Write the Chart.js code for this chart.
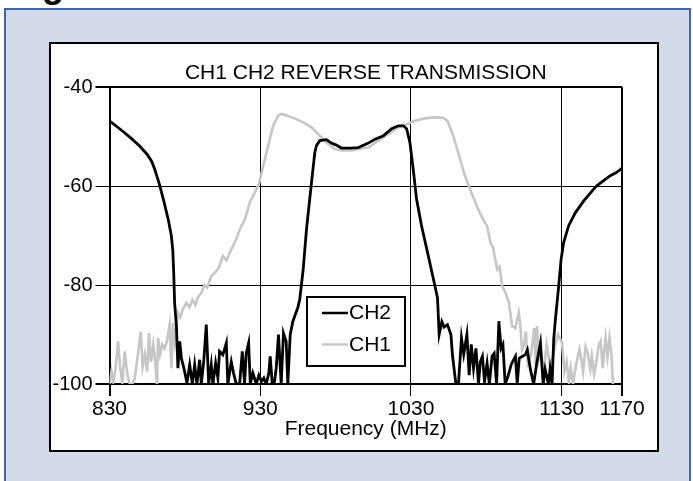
<!DOCTYPE html>
<html>
<head>
<meta charset="utf-8">
<title>CH1 CH2 Reverse Transmission</title>
<script src="https://cdn.jsdelivr.net/npm/chart.js"></script>
<style>
  body { margin: 0; width: 693px; height: 481px; overflow: hidden; position: relative; background: #fff; font-family: "Liberation Sans", Arial, sans-serif; }
  #frame { position: absolute; left: 4px; top: 8px; width: 683px; height: 480px; border: 2px solid #3c66b0; border-bottom: none; background: #d4dbe8; }
  #panel { position: absolute; left: 49px; top: 42px; width: 606px; height: 406px; border: 2px solid #000; background: #fff; }
  #fig { position: absolute; left: 10px; top: -33px; font-size: 36px; line-height: 36px; font-weight: bold; color: #000; }
  #chart { position: absolute; left: 0; top: 0; }
</style>
</head>
<body>
<div id="frame"></div>
<div id="fig">Figure</div>
<div id="panel"></div>
<canvas id="chart" width="693" height="481"></canvas>
<script>
// CH2 trace (black), frequency in MHz and level in dB
const ch2Freq = [
    830, 835, 840, 845, 850, 855, 858, 860, 863, 866,
    869, 871, 872, 872.6, 873.2, 874.4, 875.4, 876.6, 877.7, 879.5,
    881.4, 883.2, 885, 886.5, 888, 889.8, 890.9, 892.5, 894.2, 895.8,
    897.5, 898.6, 900.4, 901.9, 903, 905.2, 907.5, 908.5, 910.8, 912.3,
    914.1, 916.3, 918.1, 919.6, 920.7, 922.3, 923.4, 925.1, 927.4, 929.1,
    930.9, 932.4, 934, 935.7, 936.6, 938, 939.5, 940.6, 942.1, 943.9,
    945.4, 947.2, 948.3, 949.9, 951.6, 953.2, 954.9, 956.2, 958.5, 960.7,
    964, 966.2, 967.3, 969.5, 973.9, 977.2, 980.5, 983.8, 990.5, 995.1,
    1001.7, 1006.2, 1011.7, 1017.2, 1021.6, 1024.9, 1027.1, 1029.3, 1031.5, 1033.7,
    1037, 1041.5, 1045.9, 1047.6, 1048.7, 1050.5, 1052, 1054.2, 1056.5, 1057.6,
    1059.8, 1061.5, 1063.5, 1065, 1067.1, 1068.6, 1070, 1071.5, 1073.1, 1074.8,
    1076, 1077.4, 1078.8, 1080.5, 1082, 1083.8, 1085.2, 1086.8, 1088.3, 1089.8,
    1091, 1092.5, 1094.3, 1096.6, 1099.3, 1100.5, 1101.8, 1104, 1106, 1107.2,
    1109.2, 1111.4, 1113.6, 1115.9, 1117.7, 1119, 1121.2, 1122.3, 1123.6, 1124.7,
    1125.8, 1128, 1129.6, 1131.3, 1134.6, 1139, 1144.6, 1151.2, 1153.4, 1157.8,
    1162.2, 1166, 1170
];
const ch2Level = [
    -46.8, -48, -49.2, -50.5, -51.9, -53.6, -55, -56.6, -59.5, -63,
    -66.8, -70, -73, -77.5, -83.6, -88.3, -96.8, -91.4, -94.8, -97,
    -99.8, -96.1, -100, -96.1, -100, -95.1, -100, -95.5, -88, -100,
    -96.1, -100, -95.8, -98.8, -93.4, -94.1, -91.7, -100, -95.5, -97.8,
    -100, -100, -93.4, -100, -93.8, -91.7, -100, -97.8, -100, -98.2,
    -99.5, -98.8, -100, -97.8, -94.4, -100, -99.5, -96.8, -90, -100,
    -89.7, -91.4, -100, -90, -87.4, -86, -84.6, -82.9, -76.8, -68.7,
    -59.3, -53.2, -51.8, -50.8, -50.6, -51.3, -51.7, -52.3, -52.3, -52.2,
    -51.3, -50.5, -49.8, -48.4, -47.8, -47.8, -48.4, -51.2, -56.6, -62.6,
    -68, -74.1, -80.2, -82.6, -90, -87.4, -88.5, -88, -90, -94.4,
    -100, -100, -90.7, -94, -90, -98.2, -92, -96.8, -92.8, -100,
    -95.5, -94.4, -99.5, -95.8, -100, -94.4, -93.8, -100, -87.3, -92.8,
    -92, -100, -98.5, -96, -94.4, -100, -94.8, -94.4, -94, -93.1,
    -97, -100, -95.5, -91.7, -100, -97, -100, -97, -100, -91,
    -87, -80.2, -74.8, -71.4, -68, -65.4, -63, -60.6, -59.9, -58.9,
    -57.9, -57.3, -56.4
];

// CH1 trace (grey)
const ch1Freq = [
    830, 831.3, 832.5, 834, 835.7, 837, 838.5, 840.1, 841.8, 843.4,
    845, 846.7, 848, 849.6, 850.7, 852, 853.5, 855, 856.2, 857.5,
    859, 860.3, 861.5, 862.2, 863.5, 865, 866.5, 868, 869.9, 871.1,
    872.1, 873.3, 875.4, 877, 878.5, 881, 883, 885, 887, 888.5,
    890.9, 893, 894.8, 897.5, 900, 902.5, 905.2, 907.5, 910.8, 914.1,
    916.5, 919.8, 923.1, 926.4, 929.1, 932, 935.3, 938.6, 941.9, 944.1,
    947.4, 952.9, 958.5, 964, 969.5, 973.9, 979.4, 983.8, 990.5, 997.1,
    1001.7, 1008.3, 1015, 1021.6, 1028.2, 1032.6, 1039.3, 1045.9, 1051.4, 1054.2,
    1058, 1061.3, 1065.8, 1070.1, 1074.6, 1079, 1080.5, 1082.7, 1084.5, 1087.2,
    1088.8, 1090.5, 1092.7, 1095, 1097.1, 1099.3, 1101.5, 1102.6, 1103.7, 1105.2,
    1106.2, 1107.5, 1109.7, 1111.7, 1112.8, 1113.6, 1114.8, 1116, 1118, 1120,
    1122.5, 1125.8, 1127.5, 1129.1, 1130.2, 1131.8, 1133.3, 1134.8, 1136, 1137.5,
    1139.7, 1141.8, 1143, 1144.2, 1145.8, 1147.3, 1149, 1150, 1151.5, 1153,
    1154.5, 1155.8, 1157.2, 1158.3, 1159.1, 1160.4, 1161.7, 1163, 1164
];
const ch1Level = [
    -100, -97.5, -99.5, -97, -91.4, -96.5, -99.7, -93.4, -98, -100,
    -100, -99, -96, -92.1, -89.4, -96.5, -94, -97.5, -89.7, -95.5,
    -92, -95.5, -100, -90.7, -94, -92, -92.8, -91.5, -88, -96.8,
    -87.7, -91.5, -85.6, -86.5, -85, -83.6, -84.5, -83, -84, -82.5,
    -81.6, -80, -80.5, -78.2, -77.5, -76.5, -74.1, -75, -72.8, -70.7,
    -68.7, -66.7, -63.3, -61.3, -59.6, -55.9, -51.8, -47.8, -45.7, -45.4,
    -45.7, -46.3, -47.1, -48.1, -49.8, -51.2, -52.5, -52.8, -52.8, -52.4,
    -52.2, -50.8, -49.5, -48.1, -47.4, -46.8, -46.3, -46.1, -46.2, -46.8,
    -49.8, -53.2, -57.9, -61.3, -64.7, -67.4, -68, -71.4, -72.5, -76.8,
    -76.3, -80.2, -81.5, -83.6, -88.3, -88.7, -85.6, -88.3, -93.1, -91.8,
    -89.4, -95.8, -94.1, -88.7, -96, -88.3, -95, -93.5, -97.5, -92,
    -97, -92, -90, -91, -91.5, -97.5, -95.5, -99.5, -96.8, -100,
    -95.8, -93, -95, -97.5, -92.5, -93.8, -97, -94.4, -98, -95.5,
    -92.3, -91.4, -96.8, -93, -90.7, -94.5, -90.7, -94, -100
];

const freqTicks = [830, 930, 1030, 1130, 1170];
const levelTicks = [-100, -80, -60, -40];
const seriesNames = ['CH2', 'CH1'];
const seriesColors = ['#000000', '#c6c6c6'];

function toPoints(freqs, levels) {
    return freqs.map((f, i) => ({ x: f, y: levels[i] }));
}

// legend drawn as a boxed key inside the plot, like the original figure
const boxLegend = {
    id: 'boxLegend',
    afterDatasetsDraw(chart) {
        const c = chart.ctx;
        c.save();
        c.fillStyle = '#fff';
        c.fillRect(307, 297, 98, 69);
        c.lineWidth = 2;
        c.strokeStyle = '#000';
        c.strokeRect(307, 297, 98, 69);
        c.font = '21px "Liberation Sans", Arial, sans-serif';
        c.textBaseline = 'middle';
        c.fillStyle = '#000';
        chart.data.datasets.forEach((ds, i) => {
            const y = 313 + i * 31.5;
            c.strokeStyle = ds.borderColor;
            c.lineWidth = 2.5;
            c.beginPath();
            c.moveTo(322, y);
            c.lineTo(348, y);
            c.stroke();
            c.fillText(ds.label, 349, y + 0.5);
        });
        c.restore();
    }
};

Chart.defaults.font.family = '"Liberation Sans", Arial, sans-serif';
Chart.defaults.color = '#000';

const ctx = document.getElementById('chart').getContext('2d');
const myChart = new Chart(ctx, {
    type: 'line',
    data: {
        datasets: [{
            label: seriesNames[0],
            data: toPoints(ch2Freq, ch2Level),
            borderColor: seriesColors[0],
            borderWidth: 2.8,
            pointRadius: 0,
            tension: 0
        }, {
            label: seriesNames[1],
            data: toPoints(ch1Freq, ch1Level),
            borderColor: seriesColors[1],
            borderWidth: 2.6,
            pointRadius: 0,
            tension: 0
        }]
    },
    options: {
        responsive: false,
        animation: false,
        layout: { padding: { left: 40, top: 61, right: 71, bottom: 39 } },
        plugins: {
            legend: { display: false },
            tooltip: { enabled: false },
            title: {
                display: true,
                text: 'CH1 CH2 REVERSE TRANSMISSION',
                fullSize: false,
                color: '#000',
                font: { size: 21, weight: 'normal' },
                padding: { top: 0, bottom: 1 }
            }
        },
        scales: {
            x: {
                type: 'linear',
                min: 830,
                max: 1170,
                afterBuildTicks: scale => { scale.ticks = freqTicks.map(v => ({ value: v })); },
                afterFit: scale => { scale.height = 58; },
                ticks: {
                    font: { size: 21 },
                    padding: 1,
                    maxRotation: 0,
                    autoSkip: false,
                    color: '#000',
                    callback: v => String(v)
                },
                grid: {
                    color: '#000',
                    tickLength: 12,
                    lineWidth: c => (c.tick && (c.tick.value === 830 || c.tick.value === 1170)) ? 2 : 1
                },
                border: { display: false },
                title: {
                    display: true,
                    text: 'Frequency (MHz)',
                    color: '#000',
                    font: { size: 21 },
                    padding: 0
                }
            },
            y: {
                min: -100,
                max: -40,
                afterBuildTicks: scale => { scale.ticks = levelTicks.map(v => ({ value: v })); },
                afterFit: scale => { scale.width = 69.5; },
                ticks: { font: { size: 20 }, padding: 3, color: '#000', callback: v => String(v) },
                grid: {
                    color: '#000',
                    tickLength: 14,
                    lineWidth: c => (c.tick && (c.tick.value === -100 || c.tick.value === -40)) ? 2 : 1
                },
                border: { display: false }
            }
        }
    },
    plugins: [boxLegend]
});
</script>
</body>
</html>
